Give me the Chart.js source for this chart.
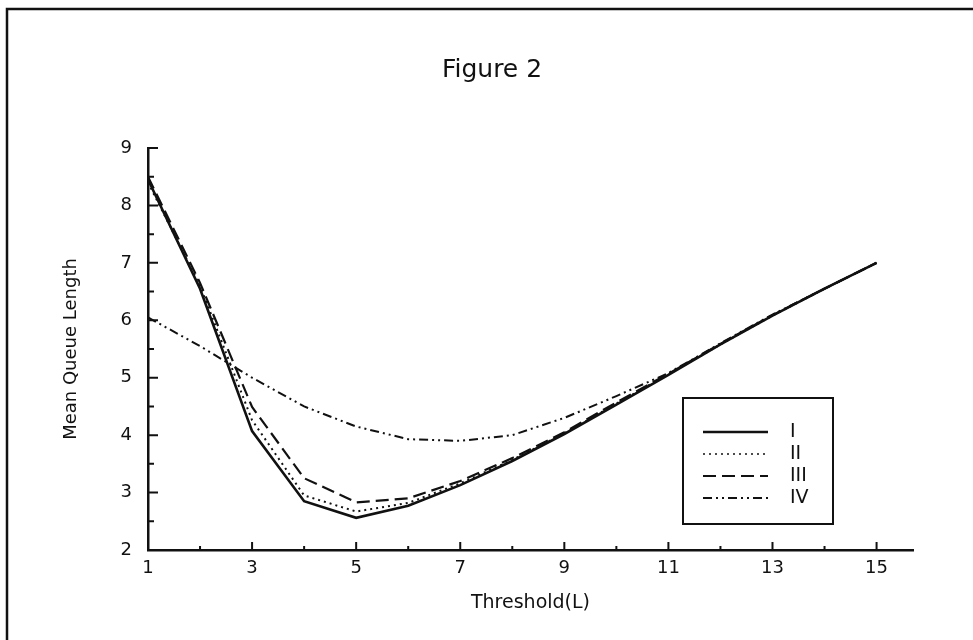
<!DOCTYPE html>
<html>
<head>
<meta charset="utf-8">
<script src="https://cdn.jsdelivr.net/npm/chart.js@4"></script>
<style>
  body { margin: 0; background: #fff; }
  #wrap { width: 973px; height: 640px; }
</style>
</head>
<body>
<div id="wrap"><canvas id="fig2" width="973" height="640"></canvas></div>
<script>
// threshold values on the x axis
const threshold = [1, 2, 3, 4, 5, 6, 7, 8, 9, 10, 11, 12, 13, 14, 15];

// mean queue length for each case
const seriesI   = [8.45, 6.55, 4.07, 2.85, 2.56, 2.77, 3.13, 3.55, 4.02, 4.53, 5.05, 5.58, 6.08, 6.55, 7.0];
const seriesII  = [8.40, 6.60, 4.26, 2.95, 2.67, 2.82, 3.16, 3.57, 4.03, 4.55, 5.06, 5.58, 6.08, 6.55, 7.0];
const seriesIII = [8.50, 6.65, 4.49, 3.25, 2.83, 2.90, 3.20, 3.60, 4.05, 4.57, 5.07, 5.59, 6.09, 6.55, 7.0];
const seriesIV  = [6.05, 5.55, 5.00, 4.50, 4.15, 3.93, 3.90, 4.00, 4.30, 4.68, 5.08, 5.60, 6.10, 6.55, 7.0];

const seriesNames = ['I', 'II', 'III', 'IV'];
const xTickValues = [1, 2, 3, 4, 5, 6, 7, 8, 9, 10, 11, 12, 13, 14, 15];
const yTickValues = [2, 3, 4, 5, 6, 7, 8, 9];

const FONT = 'DejaVu Sans';
const ink = '#111';

function toPoints(ys) {
    return threshold.map((x, i) => ({ x: x, y: ys[i] }));
}

// page frame (left and top edges of the scanned sheet)
const framePlugin = {
    id: 'frame',
    beforeDraw(chart) {
        const ctx = chart.ctx;
        ctx.save();
        ctx.fillStyle = '#fff';
        ctx.fillRect(0, 0, chart.width, chart.height);
        ctx.strokeStyle = ink;
        ctx.lineWidth = 2.5;
        ctx.beginPath();
        ctx.moveTo(7, chart.height);
        ctx.lineTo(7, 9);
        ctx.lineTo(chart.width, 9);
        ctx.stroke();
        ctx.restore();
    }
};

// inward ticks, major + minor
const tickPlugin = {
    id: 'inTicks',
    afterDraw(chart) {
        const ctx = chart.ctx;
        const xs = chart.scales.x, ys = chart.scales.y;
        const left = chart.chartArea.left, bottom = chart.chartArea.bottom;
        ctx.save();
        ctx.strokeStyle = ink;
        ctx.lineWidth = 2;
        ctx.beginPath();
        xTickValues.forEach(v => {
            const px = xs.getPixelForValue(v);
            const len = v % 2 === 1 ? 8 : 4;
            ctx.moveTo(px, bottom);
            ctx.lineTo(px, bottom - len);
        });
        yTickValues.forEach(v => {
            let py = ys.getPixelForValue(v);
            ctx.moveTo(left, py);
            ctx.lineTo(left + 10, py);
            if (v < 9) {
                py = ys.getPixelForValue(v + 0.5);
                ctx.moveTo(left, py);
                ctx.lineTo(left + 6, py);
            }
        });
        ctx.stroke();
        ctx.restore();
    }
};

// boxed legend inside the plot
const boxLegend = {
    id: 'boxLegend',
    afterDraw(chart) {
        const ctx = chart.ctx;
        const bx = 683, by = 398, bw = 150, bh = 126;
        ctx.save();
        ctx.strokeStyle = ink;
        ctx.lineWidth = 2;
        ctx.strokeRect(bx, by, bw, bh);
        ctx.font = '19px "' + FONT + '"';
        ctx.textBaseline = 'middle';
        ctx.fillStyle = ink;
        chart.data.datasets.forEach((ds, i) => {
            const y = 432 + i * 22;
            ctx.beginPath();
            ctx.setLineDash(ds.borderDash || []);
            ctx.lineWidth = i === 0 ? 2.5 : (i === 1 ? 1.5 : 2);
            ctx.moveTo(703, y);
            ctx.lineTo(768, y);
            ctx.stroke();
            ctx.setLineDash([]);
            ctx.fillText(ds.label, 790, y);
        });
        ctx.restore();
    }
};

const fig2 = new Chart(document.getElementById('fig2').getContext('2d'), {
    type: 'line',
    data: {
        datasets: [
            { label: seriesNames[0], data: toPoints(seriesI), borderColor: ink, borderWidth: 2.6 },
            { label: seriesNames[1], data: toPoints(seriesII), borderColor: ink, borderWidth: 2, borderDash: [2, 4] },
            { label: seriesNames[2], data: toPoints(seriesIII), borderColor: ink, borderWidth: 2.2, borderDash: [13, 6] },
            { label: seriesNames[3], data: toPoints(seriesIV), borderColor: ink, borderWidth: 2, borderDash: [9, 4, 2, 4, 2, 4] }
        ]
    },
    options: {
        responsive: false,
        animation: false,
        devicePixelRatio: 1,
        elements: { point: { radius: 0 }, line: { tension: 0 } },
        layout: { padding: { left: 11, top: 0, right: 0, bottom: 0 } },
        plugins: {
            legend: { display: false },
            tooltip: { enabled: false },
            title: {
                display: true,
                text: 'Figure 2',
                color: ink,
                font: { family: FONT, size: 25, weight: 'normal', lineHeight: 1.2 },
                padding: { top: 55, bottom: 63 }
            }
        },
        scales: {
            x: {
                type: 'linear',
                min: 1,
                max: 15.7,
                afterBuildTicks: s => { s.ticks = xTickValues.map(v => ({ value: v })); },
                afterFit: s => { s.height = 90; },
                grid: { display: false, drawTicks: false },
                border: { display: true, color: ink, width: 2.5 },
                ticks: {
                    color: ink,
                    padding: 8,
                    maxRotation: 0,
                    autoSkip: false,
                    font: { family: FONT, size: 18 },
                    callback: v => (v % 2 === 1 ? String(v) : '')
                },
                title: {
                    display: true,
                    text: 'Threshold(L)',
                    color: ink,
                    font: { family: FONT, size: 19 },
                    padding: { top: 0, bottom: 26 }
                }
            },
            y: {
                min: 2,
                max: 9,
                afterBuildTicks: s => { s.ticks = yTickValues.map(v => ({ value: v })); },
                afterFit: s => { s.width = 137; },
                grid: { display: false, drawTicks: false },
                border: { display: true, color: ink, width: 2.5 },
                ticks: {
                    color: ink,
                    padding: 16,
                    font: { family: FONT, size: 18 }
                },
                title: {
                    display: true,
                    text: 'Mean Queue Length',
                    color: ink,
                    font: { family: FONT, size: 18 },
                    padding: { top: 50, bottom: 0 }
                }
            },
            // empty right-hand strip so the plot stops short of the page edge
            yRight: {
                position: 'right',
                min: 2,
                max: 9,
                afterFit: s => { s.width = 60; },
                grid: { display: false, drawTicks: false },
                border: { display: false },
                ticks: { display: false }
            }
        }
    },
    plugins: [framePlugin, tickPlugin, boxLegend]
});
</script>
</body>
</html>
